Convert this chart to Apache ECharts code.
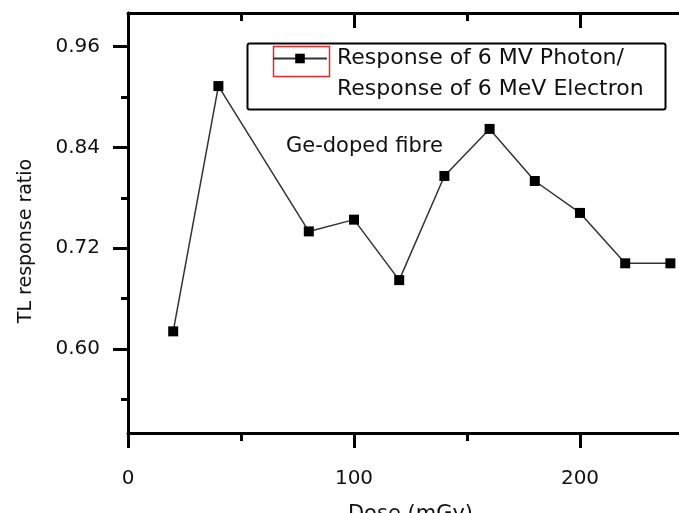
<!DOCTYPE html>
<html>
<head>
<meta charset="utf-8">
<script src="https://cdn.jsdelivr.net/npm/echarts@6/dist/echarts.min.js"></script>
<style>
  html, body { margin: 0; padding: 0; background: #fff; }
  #chart { width: 679px; height: 513px; }
</style>
</head>
<body>
<div id="chart"></div>
<script>
// dose in mGy and the photon/electron TL response ratio
const doses = [20, 40, 80, 100, 120, 140, 160, 180, 200, 220, 240];
const ratios = [0.621, 0.913, 0.740, 0.754, 0.682, 0.806, 0.862, 0.800, 0.762, 0.702, 0.702];
const xLabels = [0, 100, 200];
const yMajor = [0.60, 0.72, 0.84, 0.96];
const yMinor = [0.54, 0.66, 0.78, 0.90];
const xMinor = [50, 150, 250];
const seriesName = 'Response of 6 MV Photon/\nResponse of 6 MeV Electron';
const note = 'Ge-doped fibre';

const font = 'DejaVu Sans';
const ink = '#111';

const chart = echarts.init(document.getElementById('chart'));

const hidden = { show: false };

// helper for the extra tick-only axes (minor ticks, mirrored top/right)
const tickAxis = (base, extra) => Object.assign({
    axisLine: hidden,
    axisLabel: hidden,
    splitLine: hidden
}, base, extra);

const option = {
    animation: false,
    title: {
        text: note,
        left: 281,
        top: 131,
        textStyle: { fontFamily: font, fontSize: 21, fontWeight: 'normal', color: ink }
    },
    legend: {
        data: [seriesName],
        // leading blank line so the first text line sits level with the icon
        formatter: name => ' \n' + name,
        left: 272,
        top: 12,
        padding: 0,
        itemWidth: 54,
        itemHeight: 12,
        textStyle: {
            fontFamily: font, fontSize: 22, color: ink,
            lineHeight: 31, padding: [0, 0, 0, 5]
        }
    },
    graphic: [
        {
            type: 'rect', left: 245, top: 41, silent: true,
            shape: { width: 418, height: 66, r: 2 },
            style: { fill: 'none', stroke: '#000', lineWidth: 2 }
        },
        {
            type: 'rect', left: 271, top: 44, silent: true,
            shape: { width: 56, height: 30 },
            style: { fill: 'none', stroke: '#e8262b', lineWidth: 1.5 }
        }
    ],
    grid: {
        left: 128, right: -14, top: 13, bottom: 80,
        outerBoundsMode: 'none'
    },
    xAxis: [
        {
            type: 'value', position: 'bottom', min: 0, max: 250, interval: 100,
            name: 'Dose (mGy)', nameLocation: 'middle', nameGap: 71,
            nameTextStyle: { fontFamily: font, fontSize: 21, color: ink },
            axisLine: { lineStyle: { color: '#000', width: 3 } },
            axisTick: { length: 15, lineStyle: { color: '#000', width: 3 } },
            axisLabel: { customValues: xLabels, fontFamily: font, fontSize: 20, color: ink, margin: 36 },
            splitLine: hidden
        },
        tickAxis({ type: 'value', position: 'bottom', min: 0, max: 250 }, {
            axisTick: { customValues: xMinor, length: 8, lineStyle: { color: '#000', width: 3 } }
        }),
        {
            type: 'value', position: 'top', min: 0, max: 250, interval: 100,
            axisLine: { lineStyle: { color: '#000', width: 3 } },
            axisTick: { inside: true, length: 15, lineStyle: { color: '#000', width: 3 } },
            axisLabel: hidden,
            splitLine: hidden
        },
        tickAxis({ type: 'value', position: 'top', min: 0, max: 250 }, {
            axisTick: { inside: true, customValues: xMinor, length: 8, lineStyle: { color: '#000', width: 3 } }
        })
    ],
    yAxis: [
        {
            type: 'value', position: 'left', min: 0.5, max: 1.0,
            name: 'TL response ratio', nameLocation: 'middle', nameGap: 92,
            nameTextStyle: { fontFamily: font, fontSize: 19, color: ink, padding: [0, 36, 0, 0] },
            axisLine: { lineStyle: { color: '#000', width: 3 } },
            axisTick: { customValues: yMajor, length: 15, lineStyle: { color: '#000', width: 3 } },
            axisLabel: {
                customValues: yMajor, fontFamily: font, fontSize: 20, color: ink, margin: 28,
                formatter: v => v.toFixed(2)
            },
            splitLine: hidden
        },
        tickAxis({ type: 'value', position: 'left', min: 0.5, max: 1.0 }, {
            axisTick: { customValues: yMinor, length: 7, lineStyle: { color: '#000', width: 3 } }
        }),
        {
            type: 'value', position: 'right', min: 0.5, max: 1.0,
            axisLine: { lineStyle: { color: '#000', width: 3 } },
            axisTick: { inside: true, customValues: yMajor, length: 15, lineStyle: { color: '#000', width: 3 } },
            axisLabel: hidden,
            splitLine: hidden
        },
        tickAxis({ type: 'value', position: 'right', min: 0.5, max: 1.0 }, {
            axisTick: { inside: true, customValues: yMinor, length: 7, lineStyle: { color: '#000', width: 3 } }
        })
    ],
    series: [
        {
            name: seriesName,
            type: 'line',
            xAxisIndex: 0,
            yAxisIndex: 0,
            data: doses.map((d, i) => [d, ratios[i]]),
            symbol: 'rect',
            symbolSize: 10,
            itemStyle: { color: '#000' },
            lineStyle: { color: '#333', width: 1.5 }
        }
    ]
};

chart.setOption(option);
</script>
</body>
</html>
